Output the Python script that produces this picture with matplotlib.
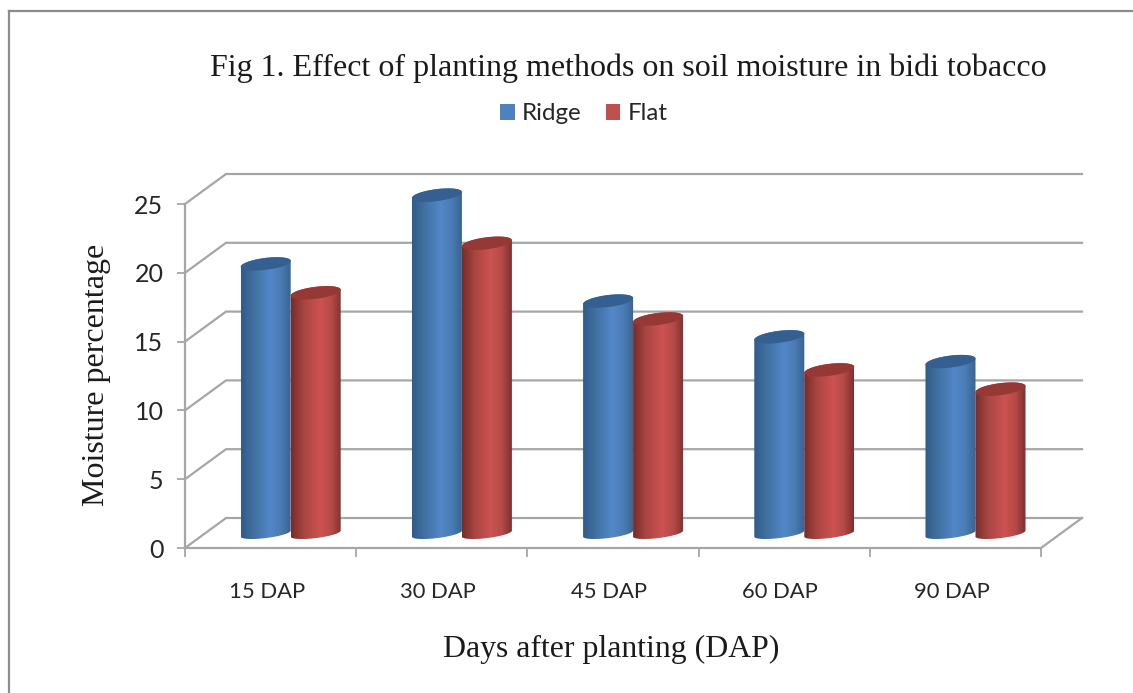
import numpy as np
import matplotlib
matplotlib.use("Agg")
import matplotlib.pyplot as plt
from matplotlib.colors import LinearSegmentedColormap
from matplotlib.patches import Patch, Polygon
from matplotlib.lines import Line2D

categories = ["15 DAP", "30 DAP", "45 DAP", "60 DAP", "90 DAP"]
ridge = [19.6, 24.6, 16.9, 14.3, 12.5]
flat = [17.5, 21.1, 15.6, 11.9, 10.5]
yticks = [0, 5, 10, 15, 20, 25]
title = "Fig 1. Effect of planting methods on soil moisture in bidi tobacco"
xlabel = "Days after planting (DAP)"
ylabel = "Moisture percentage"
series_names = ["Ridge", "Flat"]

W, H = 1133, 693
fig = plt.figure(figsize=(W / 100, H / 100), dpi=100, facecolor="white")
L, R, T, B = 185, 1041, 204, 548
ax = fig.add_axes([L / W, 1 - B / H, (R - L) / W, (B - T) / H])
ax.set_xlim(0, len(categories))
ax.set_ylim(0, 25)
ax.patch.set_alpha(0)

px = len(categories) / (R - L)      # data units per pixel, x
py = 25 / (B - T)                   # data units per pixel, y
depth_x, depth_y = 41 * px, 30 * py
GRID = "#a6a6a6"
glw = 1.6

for v in yticks:
    ax.plot([0, depth_x, len(categories) + depth_x], [v, v + depth_y, v + depth_y],
            color=GRID, lw=glw, clip_on=False, zorder=1, solid_joinstyle="miter")
ax.plot([len(categories), len(categories) + depth_x], [0, depth_y],
        color=GRID, lw=glw, clip_on=False, zorder=1)

for s in ["top", "right"]:
    ax.spines[s].set_visible(False)
for s in ["left", "bottom"]:
    ax.spines[s].set_color(GRID)
    ax.spines[s].set_linewidth(glw)
    ax.spines[s].set_zorder(1)
ax.set_yticks(yticks)
ax.set_xticks(range(len(categories) + 1))
ax.set_xticklabels([])
ax.tick_params(axis="y", length=5.5, width=1.3, color=GRID, pad=10)
ax.tick_params(axis="x", length=6.5, width=1.3, color=GRID)
for t in ax.get_yticklabels():
    t.set_fontfamily("Lato")
    t.set_fontsize(18)
    t.set_color("#262626")
for i, c in enumerate(categories):
    ax.text(i + 0.5 - 4 * px, -44 * py, c, ha="center", va="center", family="Lato",
            fontsize=15.8, color="#262626", clip_on=False)

cmap_blue = LinearSegmentedColormap.from_list(
    "b", [(0, "#2f5b8d"), (0.25, "#41719f"), (0.58, "#5288c9"), (0.8, "#4a7bb5"), (1, "#38648f")])
cmap_red = LinearSegmentedColormap.from_list(
    "r", [(0, "#772c2a"), (0.25, "#a84542"), (0.58, "#cc5351"), (0.8, "#b54a48"), (1, "#7d302e")])
grad = np.linspace(0, 1, 128).reshape(1, -1)

half_w = 25 * px
tilt = 3.0 * py
minor = 6.0 * py
minor_base = 4.5 * py
bar_dx, bar_dy = depth_x * 0.49, depth_y * 0.48


def cylinder(cx, value, cmap, cap, z):
    base = bar_dy
    top = base + value
    t = np.linspace(0, np.pi, 60)
    xb = cx - half_w * np.cos(t)
    yb = base - tilt * np.cos(t) - minor_base * np.sin(t)
    xt = cx + half_w * np.cos(t)
    yt = top + tilt * np.cos(t) + minor * np.sin(t)
    body = np.column_stack([np.r_[xb, xt], np.r_[yb, yt]])
    poly = Polygon(body, closed=True, transform=ax.transData, facecolor="none", edgecolor="none")
    ax.add_patch(poly)
    poly.set_clip_on(False)
    im = ax.imshow(grad, cmap=cmap, extent=[cx - half_w, cx + half_w, -1, top + 2],
                   aspect="auto", zorder=z, interpolation="bilinear")
    im.set_clip_box(fig.bbox)
    im.set_clip_path(poly)
    a = np.linspace(0, 2 * np.pi, 80)
    ax.fill(cx + half_w * np.cos(a), top + tilt * np.cos(a) + minor * np.sin(a),
            color=cap, lw=0, zorder=z + 0.1, clip_on=False)


for i in range(len(categories)):
    c = i + 0.5 + bar_dx
    cylinder(c - half_w, ridge[i], cmap_blue, "#345f90", 3)
    cylinder(c + half_w, flat[i], cmap_red, "#953836", 4)
ax.set_xlim(0, len(categories))
ax.set_ylim(0, 25)

fig.text(628 / W, 1 - 68 / H, title, ha="center", va="center", family="Liberation Serif",
         fontsize=23, color="#1a1a1a")
fig.text(611 / W, 1 - 649 / H, xlabel, ha="center", va="center", family="Liberation Serif",
         fontsize=22.9, color="#1a1a1a")
fig.text(97 / W, 1 - 375 / H, ylabel, ha="center", va="center", rotation=90,
         family="Liberation Serif", fontsize=23, color="#1a1a1a")

handles = [Patch(facecolor="#4f81bd", label=series_names[0]),
           Patch(facecolor="#c0504d", label=series_names[1])]
fig.legend(handles=handles, ncol=2, loc="center", bbox_to_anchor=(584 / W, 1 - 114 / H),
           frameon=False, prop={"family": "Lato", "size": 17.4}, handlelength=0.6,
           handleheight=0.6, handletextpad=0.3, columnspacing=1.0, labelcolor="#262626")

fx = lambda v: v / W
fy = lambda v: 1 - v / H
fig.add_artist(Line2D([fx(9), fx(9)], [fy(11), fy(693)], color="#8c8c8c", lw=1.6))
fig.add_artist(Line2D([fx(9), fx(1133)], [fy(11), fy(11)], color="#8c8c8c", lw=1.6))

fig.savefig("out.png", dpi=100)
